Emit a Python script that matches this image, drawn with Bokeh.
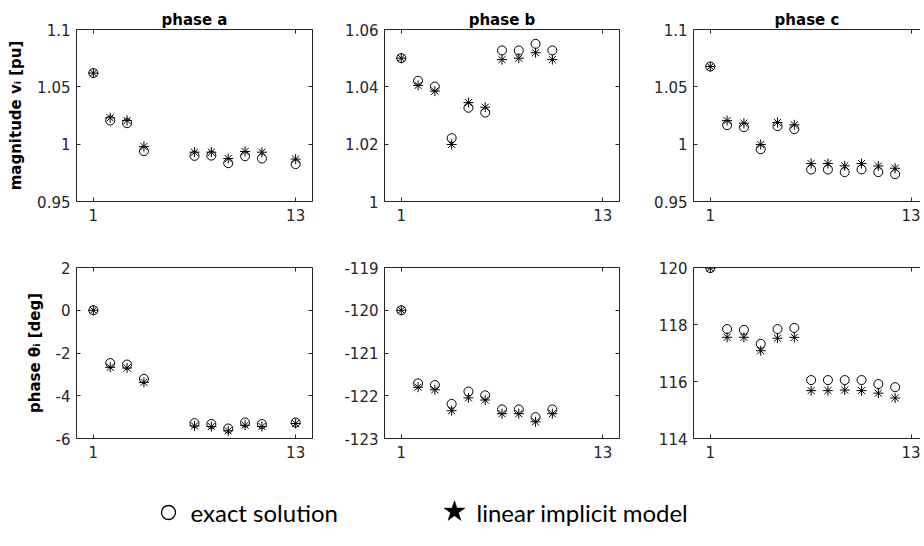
from bokeh.plotting import figure
from bokeh.layouts import column, row
from bokeh.models import Range1d, FixedTicker, LinearAxis, CustomJSTickFormatter
from bokeh.embed import file_html
from bokeh.resources import INLINE
from bokeh.core.properties import value

# ---------------- data ----------------
x_a = [1, 2, 3, 4, 7, 8, 9, 10, 11, 13]
x_b = [1, 2, 3, 4, 5, 6, 7, 8, 9, 10]
x_c = [1, 2, 3, 4, 5, 6, 7, 8, 9, 10, 11, 12]

mag_exact_a = [1.062, 1.0206, 1.0183, 0.9939, 0.9898, 0.9900, 0.9834, 0.9895, 0.9875, 0.9826]
mag_lin_a = [1.062, 1.0230, 1.0206, 0.9980, 0.9930, 0.9930, 0.9875, 0.9936, 0.9930, 0.9870]
mag_exact_b = [1.0500, 1.0421, 1.0401, 1.0221, 1.0327, 1.0310, 1.0527, 1.0527, 1.0550, 1.0527]
mag_lin_b = [1.0500, 1.0405, 1.0385, 1.0199, 1.0345, 1.0329, 1.0495, 1.0500, 1.0519, 1.0495]
mag_exact_c = [1.0677, 1.0166, 1.0148, 0.9956, 1.0157, 1.0131, 0.9779, 0.9779, 0.9756, 0.9780, 0.9756, 0.9738]
mag_lin_c = [1.0677, 1.0206, 1.0183, 0.9997, 1.0189, 1.0169, 0.9831, 0.9831, 0.9811, 0.9831, 0.9810, 0.9790]

ph_exact_a = [0.0, -2.47, -2.54, -3.21, -5.28, -5.32, -5.53, -5.25, -5.32, -5.25]
ph_lin_a = [0.0, -2.67, -2.70, -3.37, -5.41, -5.44, -5.64, -5.38, -5.44, -5.30]
ph_exact_b = [-120.0, -121.71, -121.75, -122.19, -121.90, -121.99, -122.32, -122.32, -122.50, -122.32]
ph_lin_b = [-120.0, -121.80, -121.86, -122.35, -122.05, -122.10, -122.42, -122.42, -122.61, -122.42]
ph_exact_c = [119.98, 117.84, 117.81, 117.32, 117.84, 117.88, 116.05, 116.05, 116.05, 116.05, 115.91, 115.80]
ph_lin_c = [119.98, 117.55, 117.55, 117.08, 117.52, 117.55, 115.68, 115.68, 115.70, 115.68, 115.59, 115.42]

x_ticks = [1, 13]
yt_mag_a = [0.95, 1.0, 1.05, 1.1]
yt_mag_b = [1.0, 1.02, 1.04, 1.06]
yt_mag_c = [0.95, 1.0, 1.05, 1.1]
yt_ph_a = [-6, -4, -2, 0, 2]
yt_ph_b = [-123, -122, -121, -120, -119]
yt_ph_c = [114, 116, 118, 120]

titles = ["phase a", "phase b", "phase c"]
ylabel_mag = "magnitude v\u1d62 [pu]"
ylabel_ph = "phase \u03b8\u1d62 [deg]"
legend_labels = ["exact solution", "linear implicit model"]

AX = "#262626"
FONT = "DejaVu Sans"
fmt_code = "return String(Number(tick.toFixed(6)));"


def style_axis(ax, show_labels=True):
    ax.axis_line_color = AX
    ax.axis_line_width = 1
    ax.major_tick_line_color = AX
    ax.major_tick_in = 4
    ax.major_tick_out = 0
    ax.minor_tick_line_color = None
    ax.major_label_text_color = AX
    ax.major_label_text_font = FONT
    if show_labels:
        ax.formatter = CustomJSTickFormatter(code=fmt_code)
        ax.major_label_text_font_size = "15px"
    else:
        ax.formatter = CustomJSTickFormatter(code="return '';")
        ax.major_label_text_font_size = "1px"
        ax.major_label_standoff = 0


def panel(xs, exact, lin, yr, yticks, xmax, width, height, bl, br, bt, bb,
          title=None, ylabel=None, right_axis=True):
    p = figure(width=width, height=height, output_backend="svg", toolbar_location=None,
               x_range=Range1d(0, xmax), y_range=Range1d(yr[0], yr[-1]),
               min_border_left=bl, min_border_right=br, min_border_top=bt,
               min_border_bottom=bb)
    p.outline_line_color = None
    p.grid.visible = False
    p.background_fill_color = "white"
    p.border_fill_color = "white"
    if title:
        p.title.text = title
        p.title.align = "center"
        p.title.text_font = FONT
        p.title.text_font_size = "15px"
        p.title.text_font_style = "bold"
        p.title.text_color = "black"
        p.title.standoff = 2
        p.title.offset = 0
    xa = p.xaxis[0]
    xa.ticker = FixedTicker(ticks=x_ticks)
    style_axis(xa)
    xa.major_label_standoff = 7
    ya = p.yaxis[0]
    ya.ticker = FixedTicker(ticks=yticks)
    style_axis(ya)
    ya.major_label_standoff = 6
    if ylabel:
        ya.axis_label = ylabel
        ya.axis_label_text_font = FONT
        ya.axis_label_text_font_size = "15px"
        ya.axis_label_text_font_style = "bold"
        ya.axis_label_text_color = "black"
        ya.axis_label_standoff = 9
    top = LinearAxis(ticker=FixedTicker(ticks=x_ticks))
    style_axis(top, show_labels=False)
    p.add_layout(top, "above")
    if right_axis:
        rt = LinearAxis(ticker=FixedTicker(ticks=yticks))
        style_axis(rt, show_labels=False)
        p.add_layout(rt, "right")
    p.scatter(xs, exact, marker="circle", size=9, fill_color=None,
              line_color="black", line_width=1)
    p.scatter(xs, lin, marker="asterisk", size=10, line_color="black", line_width=1)
    return p


# column geometry: (width, border_left, border_right, xmax)
cols = [(330, 76, 18, 14.0), (308, 54, 19, 14.0), (282, 55, 0, 13.51)]

top_data = [(x_a, mag_exact_a, mag_lin_a, yt_mag_a),
            (x_b, mag_exact_b, mag_lin_b, yt_mag_b),
            (x_c, mag_exact_c, mag_lin_c, yt_mag_c)]
bot_data = [(x_a, ph_exact_a, ph_lin_a, yt_ph_a),
            (x_b, ph_exact_b, ph_lin_b, yt_ph_b),
            (x_c, ph_exact_c, ph_lin_c, yt_ph_c)]

top_row = []
bot_row = []
for i in range(3):
    w, bl, br, xmax = cols[i]
    xs, ex, li, yt = top_data[i]
    top_row.append(panel(xs, ex, li, yt, yt, xmax, w, 231, bl, br, 29, 30,
                         title=titles[i], ylabel=ylabel_mag if i == 0 else None,
                         right_axis=(i < 2)))
    xs, ex, li, yt = bot_data[i]
    bot_row.append(panel(xs, ex, li, yt, yt, xmax, w, 237, bl, br, 36, 30,
                         ylabel=ylabel_ph if i == 0 else None,
                         right_axis=(i < 2)))

# legend strip
leg = figure(width=920, height=76, output_backend="svg", toolbar_location=None,
             x_range=Range1d(0, 920), y_range=Range1d(0, 76),
             x_axis_type=None, y_axis_type=None, min_border=0)
leg.outline_line_color = None
leg.grid.visible = False
leg.scatter([168], [32], marker="circle", size=14, fill_color=None,
            line_color="black", line_width=1.3)
leg.scatter([454], [33], marker="star", size=22, fill_color="black",
            line_color="black", line_width=0.5)
leg.text([190, 476], [32, 32], text=legend_labels, text_font=value("Lato"),
         text_font_size="24px", text_baseline="middle", text_color="black")

layout = column(row(*top_row), row(*bot_row), leg)

with open("out.html", "w") as f:
    f.write(file_html(layout, INLINE))
